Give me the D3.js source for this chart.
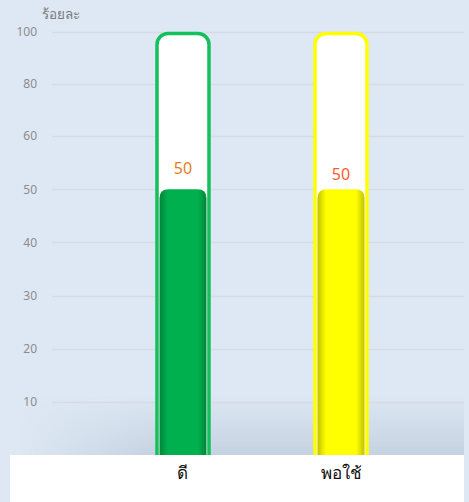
<!DOCTYPE html>
<html>
<head>
<meta charset="utf-8">
<script src="https://cdn.jsdelivr.net/npm/d3@7"></script>
<style>
  html, body { margin: 0; padding: 0; background: #dde8f4; }
  svg { display: block; font-family: "Noto Sans", "DejaVu Sans", sans-serif; }
</style>
</head>
<body>
<div id="chart"></div>
<script>
// data
var categories = ["ดี", "พอใช้"];
var values = [50, 50];
var maxValues = [100, 100];
var tickValues = [10, 20, 30, 40, 50, 60, 80, 100];
var yTitle = "ร้อยละ";

// per-bar colours
var outlineColors = ["#13c05b", "#ffff00"];
var fillMain = ["#00b04f", "#ffff00"];
var fillEdge = ["#00853a", "#c2c200"];
var labelColors = ["#e27d1c", "#ff5b2c"];
var labelLift = [15, 9];

var width = 469, height = 502;

var svg = d3.select("#chart")
    .append("svg")
    .attr("width", width)
    .attr("height", height);

var defs = svg.append("defs");

// y axis has uneven labels: 0..60 step 10, then 80, 100 at the same spacing
var y = d3.scaleLinear()
    .domain([0, 60, 100])
    .range([455, 136, 32]);

var x = d3.scaleBand()
    .domain(categories)
    .range([55, 469])
    .paddingInner(0.652)
    .paddingOuter(0.636);

// background
svg.append("rect")
    .attr("width", width).attr("height", height)
    .attr("fill", "#dde8f4");

// soft shadow at the bottom of the plot
var shade = defs.append("linearGradient")
    .attr("id", "bottomShade")
    .attr("x1", 0).attr("y1", 0).attr("x2", 0).attr("y2", 1);
shade.append("stop").attr("offset", "0%").attr("stop-color", "#c5d2e0").attr("stop-opacity", 0);
shade.append("stop").attr("offset", "100%").attr("stop-color", "#c5d2e0").attr("stop-opacity", 1);

var shadeX = defs.append("linearGradient")
    .attr("id", "shadeMask")
    .attr("x1", 0).attr("y1", 0).attr("x2", 1).attr("y2", 0);
shadeX.append("stop").attr("offset", "0%").attr("stop-color", "#fff").attr("stop-opacity", 0);
shadeX.append("stop").attr("offset", "30%").attr("stop-color", "#fff").attr("stop-opacity", 1);
shadeX.append("stop").attr("offset", "100%").attr("stop-color", "#fff").attr("stop-opacity", 1);
defs.append("mask").attr("id", "fadeLeft")
    .append("rect")
    .attr("x", 20).attr("y", 390).attr("width", 444).attr("height", 65)
    .attr("fill", "url(#shadeMask)");

svg.append("rect")
    .attr("x", 20).attr("y", 395)
    .attr("width", 444).attr("height", 60)
    .attr("fill", "url(#bottomShade)")
    .attr("mask", "url(#fadeLeft)");

// gridlines
svg.selectAll(".grid")
    .data(tickValues)
    .enter()
    .append("line")
    .attr("class", "grid")
    .attr("x1", 52).attr("x2", 464)
    .attr("y1", function(d) { return Math.round(y(d)) + 0.5; })
    .attr("y2", function(d) { return Math.round(y(d)) + 0.5; })
    .attr("stroke", "#d8dce2")
    .attr("stroke-width", 1.5);

// y axis labels
var yAxis = d3.axisLeft(y)
    .tickValues(tickValues)
    .tickSize(0)
    .tickPadding(0);
var gy = svg.append("g")
    .attr("transform", "translate(37,0)")
    .call(yAxis);
gy.select(".domain").remove();
gy.selectAll("text")
    .attr("fill", "#8c8c8c")
    .attr("font-size", 12)
    .attr("font-family", "\"Noto Sans\", sans-serif");

svg.append("text")
    .attr("x", 42).attr("y", 19)
    .attr("fill", "#7b7b7b")
    .attr("font-size", 13.5)
    .text(yTitle);

// bar gradients (darker edges)
categories.forEach(function(c, i) {
    var g = defs.append("linearGradient")
        .attr("id", "barGrad" + i)
        .attr("x1", 0).attr("y1", 0).attr("x2", 1).attr("y2", 0);
    g.append("stop").attr("offset", "0%").attr("stop-color", fillEdge[i]);
    g.append("stop").attr("offset", "18%").attr("stop-color", fillMain[i]);
    g.append("stop").attr("offset", "82%").attr("stop-color", fillMain[i]);
    g.append("stop").attr("offset", "100%").attr("stop-color", fillEdge[i]);
});

var bars = svg.selectAll(".bar")
    .data(categories)
    .enter()
    .append("g")
    .attr("class", "bar");

// track (white tube with coloured outline)
bars.append("rect")
    .attr("x", function(d) { return x(d) + 1.5; })
    .attr("y", function(d, i) { return y(maxValues[i]) + 1.5; })
    .attr("width", x.bandwidth() - 3)
    .attr("height", function(d, i) { return y(0) - y(maxValues[i]) + 10; })
    .attr("rx", 11)
    .attr("fill", "#ffffff")
    .attr("stroke", function(d, i) { return outlineColors[i]; })
    .attr("stroke-width", 3.5);

// value fill, rounded top
bars.append("path")
    .attr("d", function(d, i) {
        var x0 = x(d) + 4, x1 = x(d) + x.bandwidth() - 4;
        var top = y(values[i]), bot = y(0), r = 9;
        return "M" + x0 + "," + bot +
            "V" + (top + r) +
            "Q" + x0 + "," + top + " " + (x0 + r) + "," + top +
            "H" + (x1 - r) +
            "Q" + x1 + "," + top + " " + x1 + "," + (top + r) +
            "V" + bot + "Z";
    })
    .attr("fill", function(d, i) { return "url(#barGrad" + i + ")"; });

// value labels
bars.append("text")
    .attr("x", function(d) { return x(d) + x.bandwidth() / 2; })
    .attr("y", function(d, i) { return y(values[i]) - labelLift[i]; })
    .attr("text-anchor", "middle")
    .attr("fill", function(d, i) { return labelColors[i]; })
    .attr("font-size", 16)
    .text(function(d, i) { return values[i]; });

// white label strip at the bottom
svg.append("rect")
    .attr("x", 10).attr("y", 455)
    .attr("width", 454).attr("height", 47)
    .attr("fill", "#ffffff");

// x labels
var xAxis = d3.axisBottom(x).tickSize(0).tickPadding(0);
var gx = svg.append("g")
    .attr("transform", "translate(0,467)")
    .call(xAxis);
gx.select(".domain").remove();
gx.selectAll("text")
    .attr("fill", "#111")
    .attr("font-size", 17)
    .attr("font-family", "\"Noto Sans\", sans-serif");
</script>
</body>
</html>
